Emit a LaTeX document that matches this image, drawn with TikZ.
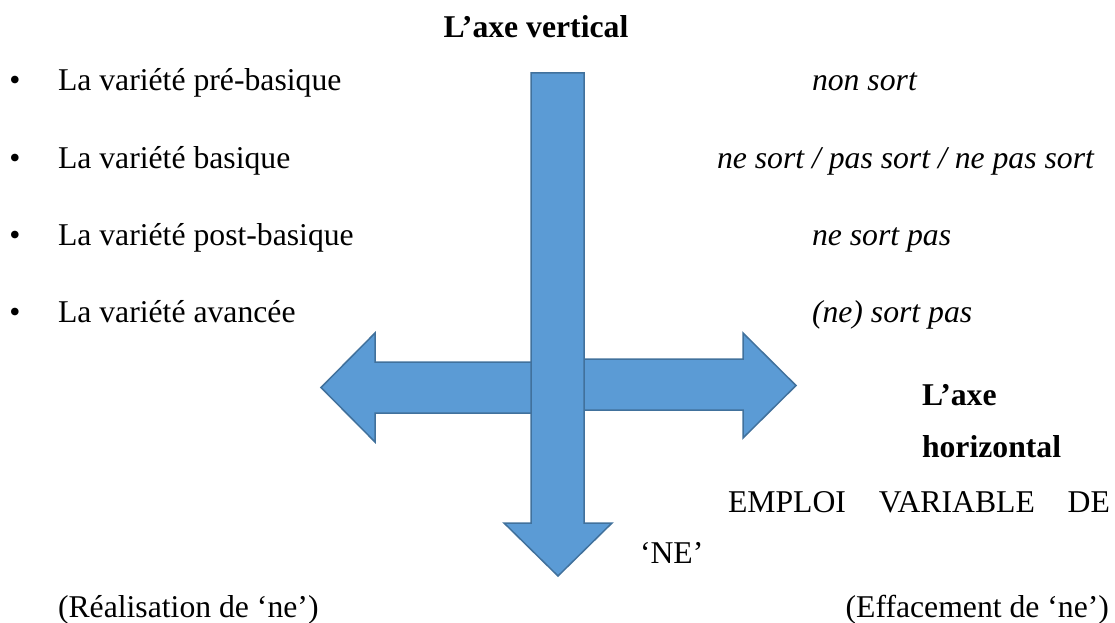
\documentclass[tikz,border=0pt]{standalone}
\usepackage{fontspec}
\setmainfont{Liberation Serif}
\definecolor{arrowfill}{RGB}{91,155,213}
\definecolor{arrowline}{RGB}{65,113,156}
\begin{document}
\begin{tikzpicture}[x=1pt,y=-1pt,
  txt/.style={inner sep=0pt, outer sep=0pt, font=\fontsize{31.7}{38}\selectfont},
  bigarrow/.style={fill=arrowfill, draw=arrowline, line width=1.5pt, line join=miter}]
\useasboundingbox (0,0) rectangle (1115,623);
% arrows
\draw[bigarrow] (583,359) -- (743,359) -- (743,333) -- (796,385.5) -- (743,438) -- (743,410) -- (583,410) -- cycle;
\draw[bigarrow] (531,73) -- (584,73) -- (584,523) -- (612,523) -- (558,576) -- (504,523) -- (531,523) -- cycle;
\draw[bigarrow] (531,362) -- (375,362) -- (375,333) -- (321,387.5) -- (375,442) -- (375,413) -- (531,413) -- cycle;
% title
\node[txt, anchor=base] (title) at (536,38) {\bfseries L’axe vertical};
% left column
\node[txt, anchor=base] (b1) at (15,91) {\textbullet};
\node[txt, anchor=base west] (l1) at (58,91) {La variété pré-basique};
\node[txt, anchor=base] (b2) at (15,168) {\textbullet};
\node[txt, anchor=base west] (l2) at (58,168) {La variété basique};
\node[txt, anchor=base] (b3) at (15,245) {\textbullet};
\node[txt, anchor=base west] (l3) at (58,245) {La variété post-basique};
\node[txt, anchor=base] (b4) at (15,322) {\textbullet};
\node[txt, anchor=base west] (l4) at (58,322) {La variété avancée};
% right column
\node[txt, anchor=base west] (r1) at (812,91) {\itshape non sort};
\node[txt, anchor=base west] (r2) at (717,168) {\itshape ne sort / pas sort / ne pas sort};
\node[txt, anchor=base west] (r3) at (812,245) {\itshape ne sort pas};
\node[txt, anchor=base west] (r4) at (812,322) {\itshape (ne) sort pas};
% horizontal axis labels
\node[txt, anchor=base west] (h1) at (922,405) {\bfseries L’axe};
\node[txt, anchor=base west] (h2) at (922,457) {\bfseries horizontal};
\node[txt, anchor=base west] (emp) at (728,512) {\makebox[382pt][s]{EMPLOI VARIABLE DE}};
\node[txt, anchor=base west] (ne) at (640,563) {‘NE’};
\node[txt, anchor=base west] (real) at (58,617) {(Réalisation de ‘ne’)};
\node[txt, anchor=base east] (eff) at (1109,617) {(Effacement de ‘ne’)};
\end{tikzpicture}
\end{document}
